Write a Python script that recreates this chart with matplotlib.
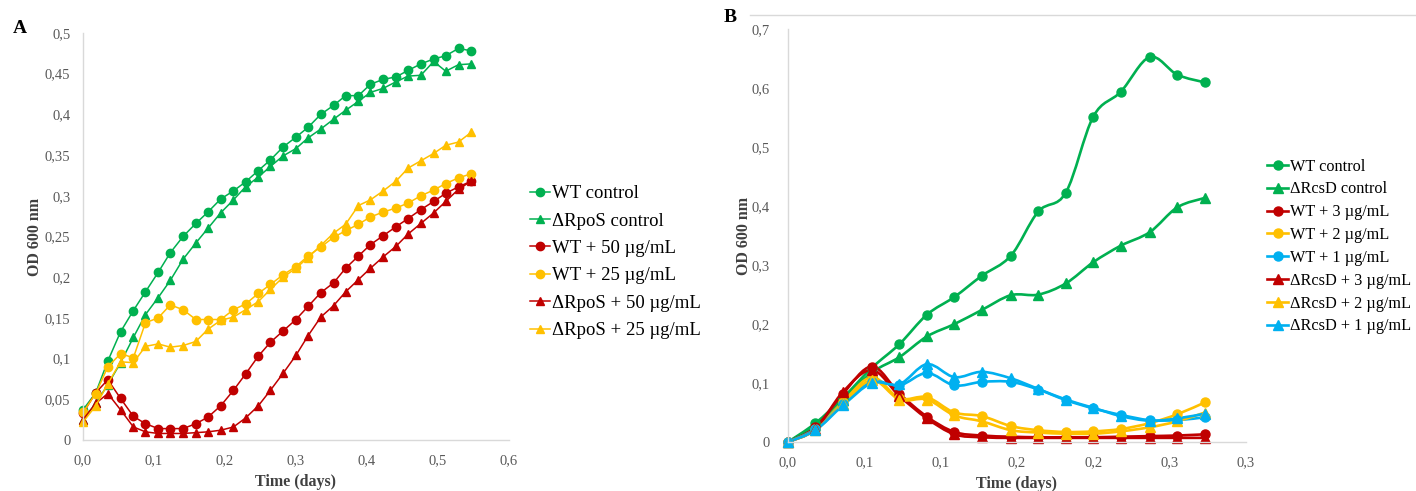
import matplotlib
matplotlib.use("Agg")
import matplotlib.pyplot as plt
from matplotlib.lines import Line2D
from matplotlib.path import Path
from matplotlib.patches import PathPatch
from matplotlib.ticker import FuncFormatter

plt.rcParams["font.family"] = ["Liberation Serif", "DejaVu Serif"]

GREEN = "#00B050"
RED = "#C00000"
YELLOW = "#FFC000"
BLUE = "#00B0F0"
TICK_C = "#595959"
TITLE_C = "#404040"
SPINE_C = "#D9D9D9"

# ---- panel A data (time in days, OD 600 nm) ----
time_a = [0.0, 0.018, 0.035, 0.053, 0.071, 0.088, 0.106, 0.123, 0.141, 0.159,
          0.176, 0.194, 0.212, 0.229, 0.247, 0.264, 0.282, 0.300, 0.317, 0.335,
          0.353, 0.370, 0.388, 0.405, 0.423, 0.441, 0.458, 0.476, 0.494, 0.511,
          0.529, 0.547]
wt_ctrl_a = [0.037, 0.058, 0.097, 0.133, 0.159, 0.182, 0.206, 0.230, 0.250, 0.266,
             0.280, 0.296, 0.306, 0.317, 0.331, 0.344, 0.360, 0.372, 0.384, 0.400,
             0.411, 0.423, 0.423, 0.437, 0.443, 0.446, 0.454, 0.462, 0.468, 0.472,
             0.481, 0.478]
rpos_ctrl_a = [0.025, 0.045, 0.068, 0.095, 0.126, 0.154, 0.175, 0.196, 0.222, 0.242,
               0.260, 0.279, 0.295, 0.311, 0.323, 0.336, 0.349, 0.358, 0.371, 0.382,
               0.394, 0.405, 0.416, 0.427, 0.432, 0.440, 0.447, 0.448, 0.465, 0.453,
               0.461, 0.462]
wt50_a = [0.033, 0.058, 0.074, 0.051, 0.029, 0.020, 0.014, 0.014, 0.014, 0.020,
          0.028, 0.042, 0.061, 0.081, 0.103, 0.120, 0.134, 0.148, 0.164, 0.181,
          0.193, 0.211, 0.226, 0.240, 0.251, 0.262, 0.272, 0.283, 0.293, 0.303,
          0.311, 0.318]
wt25_a = [0.034, 0.057, 0.090, 0.106, 0.101, 0.144, 0.150, 0.166, 0.160, 0.148,
          0.148, 0.148, 0.160, 0.167, 0.180, 0.191, 0.203, 0.213, 0.226, 0.237,
          0.249, 0.257, 0.265, 0.274, 0.280, 0.285, 0.291, 0.300, 0.307, 0.315,
          0.322, 0.327]
rpos50_a = [0.025, 0.045, 0.057, 0.037, 0.016, 0.010, 0.008, 0.008, 0.008, 0.009,
            0.010, 0.012, 0.016, 0.027, 0.042, 0.061, 0.082, 0.104, 0.128, 0.151,
            0.165, 0.182, 0.197, 0.211, 0.225, 0.238, 0.253, 0.266, 0.279, 0.293,
            0.308, 0.318]
rpos25_a = [0.022, 0.042, 0.069, 0.096, 0.095, 0.115, 0.118, 0.114, 0.116, 0.121,
            0.136, 0.147, 0.151, 0.160, 0.170, 0.185, 0.200, 0.211, 0.224, 0.239,
            0.254, 0.265, 0.288, 0.295, 0.306, 0.318, 0.334, 0.343, 0.352, 0.362,
            0.366, 0.378]

# ---- panel B data ----
time_b = [0.0, 0.018, 0.036, 0.055, 0.073, 0.091, 0.109, 0.127, 0.146, 0.164,
          0.182, 0.200, 0.218, 0.237, 0.255, 0.273]
wt_ctrl_b = [0, 0.032, 0.075, 0.126, 0.166, 0.216, 0.246, 0.282, 0.316, 0.391,
             0.423, 0.552, 0.594, 0.653, 0.623, 0.610]
rcsd_ctrl_b = [0, 0.028, 0.072, 0.118, 0.144, 0.179, 0.200, 0.224, 0.249, 0.250,
               0.269, 0.305, 0.333, 0.356, 0.398, 0.414]
wt3_b = [0, 0.025, 0.082, 0.128, 0.082, 0.043, 0.017, 0.011, 0.009, 0.008,
         0.008, 0.008, 0.009, 0.010, 0.011, 0.013]
wt2_b = [0, 0.022, 0.068, 0.110, 0.074, 0.076, 0.050, 0.044, 0.027, 0.020,
         0.017, 0.018, 0.022, 0.032, 0.047, 0.067]
wt1_b = [0, 0.022, 0.065, 0.102, 0.096, 0.117, 0.096, 0.102, 0.102, 0.089,
         0.071, 0.057, 0.046, 0.037, 0.037, 0.042]
rcsd3_b = [0, 0.022, 0.085, 0.122, 0.078, 0.040, 0.013, 0.008, 0.007, 0.007,
           0.007, 0.007, 0.007, 0.007, 0.007, 0.007]
rcsd2_b = [0, 0.020, 0.065, 0.105, 0.072, 0.072, 0.045, 0.035, 0.020, 0.016,
           0.014, 0.014, 0.018, 0.025, 0.035, 0.050]
rcsd1_b = [0, 0.020, 0.062, 0.100, 0.098, 0.132, 0.110, 0.119, 0.108, 0.090,
           0.072, 0.058, 0.044, 0.036, 0.040, 0.048]

xticks_b = [0.0, 0.05, 0.10, 0.15, 0.20, 0.25, 0.30]
xticklabels_b = ["0,0", "0,1", "0,1", "0,2", "0,2", "0,3", "0,3"]

series_a = [
    ("WT control", wt_ctrl_a, GREEN, "o"),
    ("ΔRpoS control", rpos_ctrl_a, GREEN, "^"),
    ("WT + 50 µg/mL", wt50_a, RED, "o"),
    ("WT + 25 µg/mL", wt25_a, YELLOW, "o"),
    ("ΔRpoS + 50 µg/mL", rpos50_a, RED, "^"),
    ("ΔRpoS + 25 µg/mL", rpos25_a, YELLOW, "^"),
]
series_b = [
    ("WT control", wt_ctrl_b, GREEN, "o"),
    ("ΔRcsD control", rcsd_ctrl_b, GREEN, "^"),
    ("WT + 3 µg/mL", wt3_b, RED, "o"),
    ("WT + 2 µg/mL", wt2_b, YELLOW, "o"),
    ("WT + 1 µg/mL", wt1_b, BLUE, "o"),
    ("ΔRcsD + 3 µg/mL", rcsd3_b, RED, "^"),
    ("ΔRcsD + 2 µg/mL", rcsd2_b, YELLOW, "^"),
    ("ΔRcsD + 1 µg/mL", rcsd1_b, BLUE, "^"),
]


def comma_fmt(v, pos):
    return ("%g" % round(v, 3)).replace(".", ",")


def smooth_path(xs, ys):
    # excel-like smoothed line: catmull-rom as cubic bezier
    n = len(xs)
    verts = [(xs[0], ys[0])]
    codes = [Path.MOVETO]
    for i in range(n - 1):
        x0, y0 = (xs[i - 1], ys[i - 1]) if i > 0 else (xs[i], ys[i])
        x1, y1 = xs[i], ys[i]
        x2, y2 = xs[i + 1], ys[i + 1]
        x3, y3 = (xs[i + 2], ys[i + 2]) if i + 2 < n else (x2, y2)
        c1 = (x1 + (x2 - x0) / 6, y1 + (y2 - y0) / 6)
        c2 = (x2 - (x3 - x1) / 6, y2 - (y3 - y1) / 6)
        verts += [c1, c2, (x2, y2)]
        codes += [Path.CURVE4] * 3
    return Path(verts, codes)


def style_axes(ax):
    for s in ["top", "right"]:
        ax.spines[s].set_visible(False)
    for s in ["left", "bottom"]:
        ax.spines[s].set_color(SPINE_C)
        ax.spines[s].set_linewidth(1.0)
    ax.tick_params(length=0, labelsize=10.5, labelcolor=TICK_C)


fig = plt.figure(figsize=(14.16, 4.91), dpi=100)

# ---------- panel A ----------
axA = fig.add_axes([0.0586, 0.1039, 0.3008, 0.829])
for label, ys, col, mk in series_a:
    axA.plot(time_a, ys, color=col, marker=mk, markersize=6, linewidth=1.1,
             label=label, clip_on=False)
axA.set_xlim(0, 0.6)
axA.set_ylim(0, 0.5)
axA.set_xticks([0.0, 0.1, 0.2, 0.3, 0.4, 0.5, 0.6])
axA.xaxis.set_major_formatter(FuncFormatter(lambda v, p: ("%.1f" % v).replace(".", ",")))
axA.set_yticks([i * 0.05 for i in range(11)])
axA.yaxis.set_major_formatter(FuncFormatter(comma_fmt))
style_axes(axA)
axA.tick_params(axis="x", pad=10)
axA.tick_params(axis="y", pad=9)
axA.set_xlabel("Time (days)", fontsize=11.5, fontweight="bold", color=TITLE_C, labelpad=5)
axA.set_ylabel("OD 600 nm", fontsize=11.5, fontweight="bold", color=TITLE_C, labelpad=1)
axA.legend(loc="center left", bbox_to_anchor=(0.374, 0.466),
           bbox_transform=fig.transFigure, frameon=False, fontsize=13.5,
           handlelength=1.1, handletextpad=0.1, labelspacing=0.55,
           borderpad=0, borderaxespad=0, markerscale=1.0)
fig.text(0.0138, 0.942, "A", fontsize=14, fontweight="bold", ha="center", va="center")

# ---------- panel B ----------
axB = fig.add_axes([0.5565, 0.0998, 0.3234, 0.8405])
handles = []
for label, ys, col, mk in series_b:
    axB.add_patch(PathPatch(smooth_path(time_b, ys), facecolor="none",
                            edgecolor=col, linewidth=1.9, clip_on=False))
    axB.plot(time_b, ys, color=col, marker=mk, markersize=6.5, linestyle="none",
             clip_on=False)
    handles.append(Line2D([], [], color=col, marker=mk, markersize=6.5,
                          linewidth=1.9, label=label))
axB.set_xlim(0, 0.30)
axB.set_ylim(0, 0.7)
axB.set_xticks(xticks_b)
axB.set_xticklabels(xticklabels_b)
axB.set_yticks([i * 0.1 for i in range(8)])
axB.yaxis.set_major_formatter(FuncFormatter(comma_fmt))
style_axes(axB)
axB.tick_params(axis="x", pad=10)
axB.tick_params(axis="y", pad=13)
axB.set_xlabel("Time (days)", fontsize=11.5, fontweight="bold", color=TITLE_C, labelpad=5)
axB.set_ylabel("OD 600 nm", fontsize=11.5, fontweight="bold", color=TITLE_C, labelpad=-0.5)
axB.legend(handles=handles, loc="center left", bbox_to_anchor=(0.8948, 0.498),
           bbox_transform=fig.transFigure, frameon=False, fontsize=11.7,
           handlelength=1.3, handletextpad=0.1, labelspacing=0.42,
           borderpad=0, borderaxespad=0)
fig.text(0.5155, 0.965, "B", fontsize=14, fontweight="bold", ha="center", va="center")
fig.add_artist(Line2D([0.53, 1.0], [0.969, 0.969], color=SPINE_C, linewidth=1.0,
                      transform=fig.transFigure))

fig.savefig("out.png", dpi=100, facecolor="white")
